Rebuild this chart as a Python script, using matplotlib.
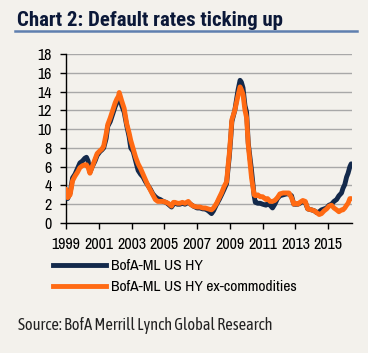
import matplotlib
matplotlib.use("Agg")
import matplotlib.pyplot as plt
from matplotlib import font_manager
from matplotlib.lines import Line2D

# decimal years for the sampled points
years = [
    1999.00, 1999.10, 1999.25, 1999.40, 1999.55, 1999.70, 1999.85, 2000.00, 2000.15, 2000.25,
    2000.35, 2000.46, 2000.60, 2000.77, 2000.90, 2001.07, 2001.20, 2001.30, 2001.45, 2001.55,
    2001.70, 2001.85, 2002.00, 2002.10, 2002.20, 2002.25, 2002.30, 2002.40, 2002.55, 2002.70,
    2002.85, 2002.95, 2003.10, 2003.25, 2003.40, 2003.55, 2003.70, 2003.85, 2004.00, 2004.15,
    2004.30, 2004.45, 2004.60, 2004.75, 2004.93, 2005.10, 2005.24, 2005.44, 2005.55, 2005.65,
    2005.80, 2005.95, 2006.10, 2006.26, 2006.46, 2006.60, 2006.77, 2007.00, 2007.17, 2007.35,
    2007.50, 2007.68, 2007.88, 2008.00, 2008.19, 2008.35, 2008.49, 2008.65, 2008.80, 2008.90,
    2008.96, 2009.05, 2009.12, 2009.30, 2009.50, 2009.62, 2009.70, 2009.80, 2009.92, 2010.02,
    2010.12, 2010.32, 2010.48, 2010.55, 2010.70, 2010.85, 2011.00, 2011.20, 2011.30, 2011.45,
    2011.60, 2011.74, 2011.90, 2012.05, 2012.25, 2012.46, 2012.60, 2012.76, 2012.90, 2013.00,
    2013.15, 2013.27, 2013.45, 2013.60, 2013.75, 2013.98, 2014.15, 2014.30, 2014.45, 2014.59,
    2014.75, 2014.90, 2015.05, 2015.20, 2015.35, 2015.51, 2015.65, 2015.81, 2015.90, 2016.01,
    2016.12, 2016.21, 2016.32, 2016.40,
]

# BofA-ML US HY default rate (%)
us_hy = [
    3.2, 2.6, 3.2, 4.8, 5.2, 5.8, 6.4, 6.6, 6.9, 7.0,
    6.6, 5.4, 6.0, 6.6, 7.2, 7.6, 7.8, 8.0, 9.0, 10.3,
    10.8, 11.6, 12.4, 12.8, 13.0, 13.2, 13.2, 12.5, 11.8, 10.4,
    9.2, 8.0, 7.6, 6.6, 5.6, 5.2, 4.9, 4.4, 4.0, 3.6,
    3.1, 2.8, 2.6, 2.5, 2.3, 2.2, 2.0, 1.7, 2.0, 2.1,
    2.0, 2.0, 2.1, 2.0, 2.2, 2.0, 1.8, 1.6, 1.6, 1.5,
    1.5, 1.3, 1.0, 1.3, 2.0, 2.5, 3.0, 3.6, 4.2, 6.0,
    7.0, 9.0, 10.8, 12.0, 14.2, 15.2, 15.0, 14.4, 12.5, 11.8,
    8.5, 5.6, 2.9, 2.2, 2.1, 2.1, 2.0, 1.9, 2.0, 1.9,
    1.6, 2.0, 2.6, 2.9, 3.0, 3.1, 3.1, 2.9, 2.0, 2.0,
    2.0, 2.1, 2.3, 2.2, 1.5, 1.4, 1.3, 1.1, 1.2, 1.4,
    1.5, 1.6, 1.9, 2.0, 2.3, 2.5, 2.9, 3.2, 3.7, 4.1,
    4.9, 5.3, 6.0, 6.3,
]

# BofA-ML US HY ex-commodities default rate (%)
us_hy_ex_comm = [
    3.6, 2.7, 3.0, 4.5, 5.0, 5.4, 5.9, 6.1, 6.2, 6.2,
    5.9, 5.3, 6.0, 6.8, 7.4, 7.7, 7.9, 8.2, 9.5, 10.5,
    11.2, 12.0, 12.8, 13.2, 13.5, 13.9, 13.6, 13.0, 12.2, 10.6,
    9.6, 8.8, 7.9, 7.0, 6.3, 5.8, 5.2, 4.6, 4.0, 3.5,
    3.0, 2.5, 2.3, 2.3, 2.3, 2.2, 2.1, 1.8, 2.2, 2.2,
    2.1, 2.1, 2.2, 2.1, 2.3, 2.0, 1.8, 1.7, 1.7, 1.6,
    1.6, 1.5, 1.4, 1.6, 2.1, 2.7, 3.2, 3.9, 4.4, 6.3,
    7.3, 9.3, 11.0, 12.0, 13.6, 14.5, 14.2, 13.7, 12.0, 11.2,
    8.3, 4.8, 3.0, 2.9, 3.0, 2.8, 2.8, 2.5, 2.6, 2.3,
    2.3, 2.4, 2.7, 3.1, 3.2, 3.2, 3.2, 2.7, 2.0, 2.1,
    2.0, 2.2, 2.4, 2.3, 1.5, 1.4, 1.3, 1.1, 0.9, 1.0,
    1.3, 1.5, 1.8, 1.9, 1.6, 1.4, 1.2, 1.4, 1.4, 1.6,
    1.9, 2.1, 2.6, 2.6,
]

year_ticks = list(range(1999, 2016, 2))
value_ticks = list(range(0, 19, 2))

BG = "#F3F1EC"
NAVY = "#13294B"
ORANGE = "#FF6A13"

available = {f.name for f in font_manager.fontManager.ttflist}


def pick(*names):
    for n in names:
        if n in available:
            return n
    return "Liberation Sans"


body_font = pick("Liberation Sans Narrow", "Arial Narrow", "Archivo Narrow", "PT Sans Narrow",
                 "Roboto Condensed", "Asap Condensed")
title_font = pick("Roboto Condensed", "Asap Condensed", "Barlow Semi Condensed", "Archivo Narrow")
source_font = pick("Asap Condensed", "Barlow Semi Condensed", "Roboto Condensed", "Archivo Narrow")
plt.rcParams["font.family"] = [body_font, "DejaVu Sans"]

fig = plt.figure(figsize=(3.68, 3.53), dpi=100, facecolor=BG)
ax = fig.add_axes([66 / 368, 1 - 223 / 353, (352 - 66) / 368, (223 - 54) / 353])
ax.set_facecolor(BG)

ax.plot(years, us_hy, color=NAVY, lw=3.5, solid_capstyle="round", solid_joinstyle="round", zorder=3)
ax.plot(years, us_hy_ex_comm, color=ORANGE, lw=3.5, solid_capstyle="round", solid_joinstyle="round", zorder=4)

ax.set_xlim(1999, 2016.45)
ax.set_ylim(0, 18)
ax.set_xticks(year_ticks)
ax.set_xticklabels([str(y) for y in year_ticks])
ax.set_yticks(value_ticks)
ax.grid(axis="y", color="#A8A8A8", lw=1.0)
ax.set_axisbelow(True)
for s in ["top", "right"]:
    ax.spines[s].set_visible(False)
for s in ["left", "bottom"]:
    ax.spines[s].set_color("black")
    ax.spines[s].set_linewidth(1.0)
ax.tick_params(axis="both", direction="out", length=4, width=1, labelsize=11.5, colors="black", pad=6)

# title and rule
fig.text(17 / 368, 1 - 26 / 353, "Chart 2: Default rates ticking up", fontsize=15,
         fontweight="bold", family=[title_font, "DejaVu Sans"], color="#0B1838",
         ha="left", va="baseline")
fig.add_artist(Line2D([15 / 368, 357 / 368], [1 - 31 / 353] * 2, color="#5F7FAF", lw=1.8))

# legend
handles = [Line2D([], [], color=NAVY, lw=3.5), Line2D([], [], color=ORANGE, lw=3.5)]
fig.legend(handles, ["BofA-ML US HY", "BofA-ML US HY ex-commodities"],
           loc="upper left", bbox_to_anchor=(53 / 368, 1 - 259 / 353), frameon=False,
           fontsize=11.2, handlelength=3.4, handletextpad=0.35, labelspacing=0.45,
           borderaxespad=0, borderpad=0)

fig.text(18 / 368, 1 - 326 / 353, "Source: BofA Merrill Lynch Global Research", fontsize=11.8,
         family=[source_font, "DejaVu Sans"], color="#222222", ha="left", va="center")

fig.savefig("out.png", dpi=100, facecolor=BG)
